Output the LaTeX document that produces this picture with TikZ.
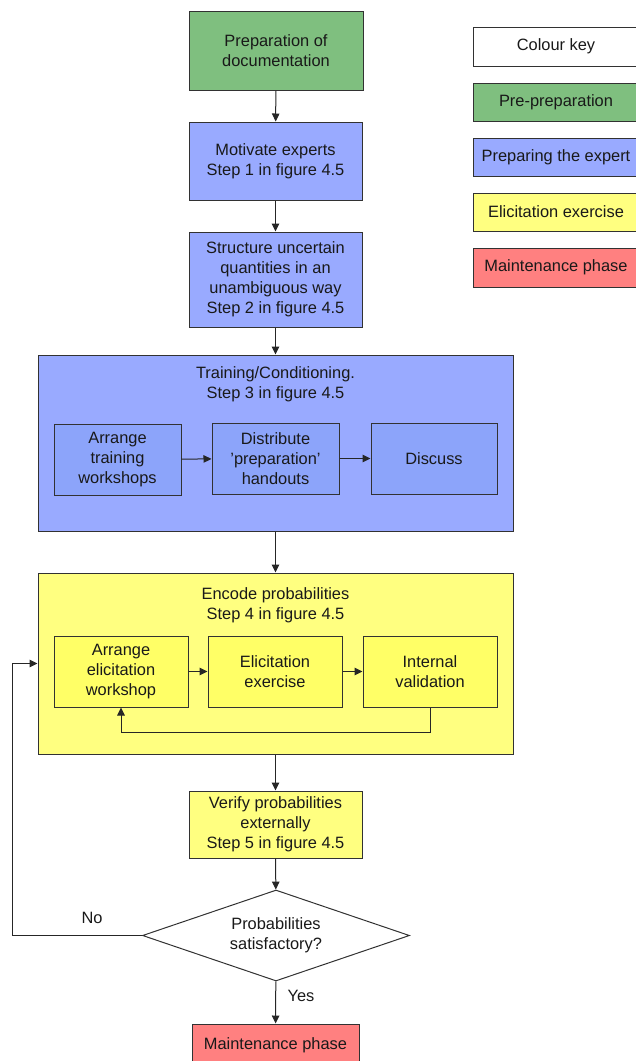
\documentclass[tikz,border=0pt]{standalone}
\usepackage{fontspec}
\setmainfont{Liberation Sans}
\usetikzlibrary{arrows.meta,shapes.geometric}
\definecolor{cgreen}{RGB}{127,191,127}
\definecolor{cblue}{RGB}{153,170,255}
\definecolor{cblueIn}{RGB}{140,164,250}
\definecolor{cyellow}{RGB}{255,255,128}
\definecolor{cyellowIn}{RGB}{255,255,102}
\definecolor{cred}{RGB}{255,128,128}
\definecolor{cline}{RGB}{50,50,50}
\tikzset{
  txt/.style={font=\fontsize{16.4}{20}\selectfont, align=center, text=black!90},
  box/.style={txt, draw=cline, line width=1pt, inner sep=0pt, rectangle},
  arr/.style={draw=black!85, line width=1pt, -{Triangle[length=8pt,width=7.5pt]}},
}
\begin{document}
\begin{tikzpicture}[x=1pt,y=-1pt]
\useasboundingbox (0,0) rectangle (636,1061);
\clip (0,0) rectangle (636,1061);
% main column
\node[box, fill=cgreen, minimum width=174pt, minimum height=79pt] (prep) at (276,50.5) {Preparation of\\documentation};
\node[box, fill=cblue, minimum width=173pt, minimum height=78pt] (motiv) at (275.5,161) {Motivate experts\\Step 1 in figure 4.5};
\node[box, fill=cblue, minimum width=173pt, minimum height=95pt] (struct) at (275.5,279.5) {Structure uncertain\\quantities in an\\unambiguous way\\Step 2 in figure 4.5};
% training
\node[box, fill=cblue, minimum width=475pt, minimum height=176pt] (train) at (275.5,443) {};
\node[txt] (traint) at (275.5,384.5) {Training/Conditioning.\\Step 3 in figure 4.5};
\node[box, fill=cblueIn, minimum width=127pt, minimum height=71pt] (arrtr) at (117.5,459.5) {Arrange\\training\\workshops};
\node[box, fill=cblueIn, minimum width=127pt, minimum height=71pt] (distr) at (275.5,458.5) {Distribute\\'preparation'\\handouts};
\node[box, fill=cblueIn, minimum width=126pt, minimum height=71pt] (disc) at (434,458.5) {Discuss};
% encode
\node[box, fill=cyellow, minimum width=475pt, minimum height=181pt] (enc) at (275.5,663.5) {};
\node[txt] (enct) at (275.5,605) {Encode probabilities\\Step 4 in figure 4.5};
\node[box, fill=cyellowIn, minimum width=134pt, minimum height=71pt] (arrel) at (121,671.5) {Arrange\\elicitation\\workshop};
\node[box, fill=cyellowIn, minimum width=134pt, minimum height=71pt] (elex) at (275,671.5) {Elicitation\\exercise};
\node[box, fill=cyellowIn, minimum width=134pt, minimum height=71pt] (ival) at (430,671.5) {Internal\\validation};
% verify
\node[box, fill=cyellow, minimum width=173pt, minimum height=67pt] (verif) at (275.5,824.5) {Verify probabilities\\externally\\Step 5 in figure 4.5};
\node[box, shape=diamond, fill=white, aspect=2.9, minimum width=267pt, minimum height=91pt] (dia) at (276,935.5) {Probabilities\\satisfactory?};
\node[box, fill=cred, minimum width=167pt, minimum height=42pt] (maint) at (275.5,1045) {Maintenance phase};
% colour key
\node[box, fill=white, minimum width=166pt, minimum height=39pt] (k0) at (556,46.5) {Colour key};
\node[box, fill=cgreen, minimum width=166pt, minimum height=38pt] (k1) at (556,102) {Pre-preparation};
\node[box, fill=cblue, minimum width=166pt, minimum height=38pt] (k2) at (556,157) {Preparing the expert};
\node[box, fill=cyellow, minimum width=166pt, minimum height=38pt] (k3) at (556,212) {Elicitation exercise};
\node[box, fill=cred, minimum width=166pt, minimum height=39pt] (k4) at (556,267.5) {Maintenance phase};
% connectors
\draw[arr] (prep) -- (motiv);
\draw[arr] (motiv) -- (struct);
\draw[arr] (struct) -- (train);
\draw[arr] (arrtr) -- (distr);
\draw[arr] (distr) -- (disc);
\draw[arr] (train) -- (enc);
\draw[arr] (arrel) -- (elex);
\draw[arr] (elex) -- (ival);
\draw[arr] (ival.south) -- ++(0,25) -| (arrel.south);
\draw[arr] (enc) -- (verif);
\draw[arr] (verif) -- (dia);
\draw[arr] (dia) -- node[txt, right=8pt, pos=0.35] (yes) {Yes} (maint);
\draw[arr] (dia.west) -- ++(-130,0) |- (enc.west);
\node[txt] (no) at (92,918) {No};
\end{tikzpicture}
\end{document}
